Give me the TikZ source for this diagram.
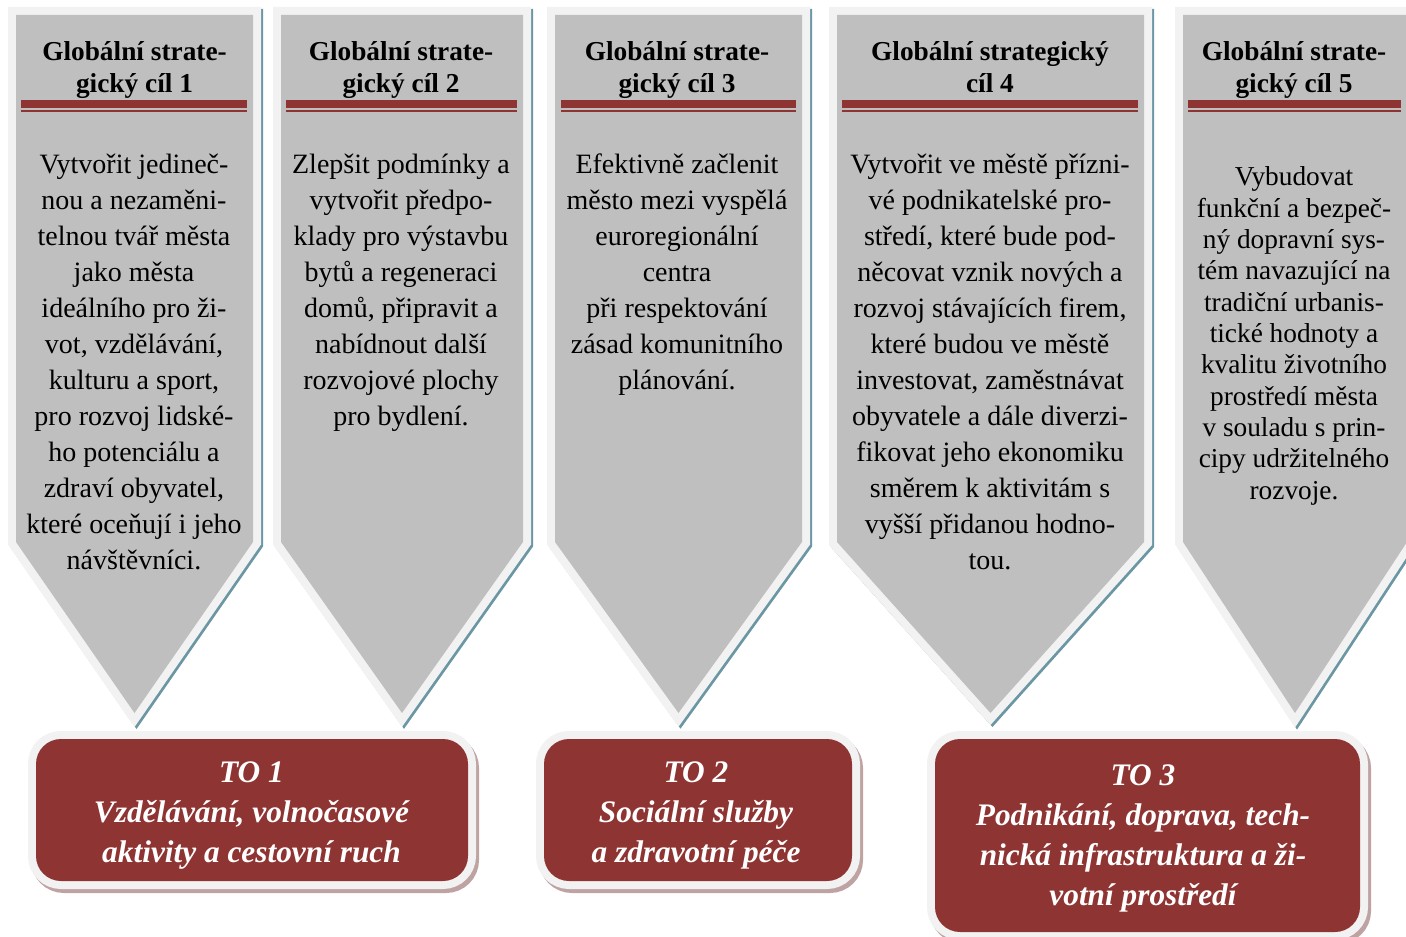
\documentclass[tikz,border=0pt]{standalone}
\usepackage{fontspec}
\setmainfont{Liberation Serif}
\definecolor{cgray}{HTML}{BFBFBF}
\definecolor{clight}{HTML}{F2F2F2}
\definecolor{cred}{HTML}{8E3432}
\definecolor{cteal}{HTML}{6A97A3}
\definecolor{cpink}{HTML}{BFA2A2}
\tikzset{
  chev/.style={fill=cgray, line join=miter,
    preaction={draw=cteal, line width=12pt, line join=miter, transform canvas={shift={(2,2)}}},
    preaction={draw=clight, line width=12pt, line join=miter}},
  tobox/.style={fill=cred, rounded corners=18.75pt,
    preaction={draw=cpink, line width=12pt, transform canvas={shift={(3,4)}}},
    preaction={draw=clight, line width=12pt}},
  bar/.style={fill=cred, draw=none},
  title/.style={anchor=base, inner sep=0pt, font=\bfseries\fontsize{20.5}{24}\selectfont},
  body/.style={anchor=base, inner sep=0pt, font=\fontsize{21}{27}\selectfont},
  bodysmall/.style={anchor=base, inner sep=0pt, font=\fontsize{20.5}{23.5}\selectfont},
  totext/.style={anchor=base, inner sep=0pt, text=white, font=\bfseries\itshape\fontsize{23.5}{30}\selectfont}
}
\newcommand{\lns}[1]{\begin{tabular}[t]{@{}c@{}}#1\end{tabular}}
\begin{document}
\begin{tikzpicture}[x=0.75pt,y=-0.75pt]
\useasboundingbox (0,0) rectangle (1406,937);
\clip (0,0) rectangle (1406,937);
\fill[white] (0,0) rectangle (1406,937);
% chevrons
\path[chev] (16,15) -- (253,15) -- (253,542) -- (134.5,713) -- (16,542) -- cycle;
\path[chev] (281,15) -- (523,15) -- (523,542) -- (402,713) -- (281,542) -- cycle;
\path[chev] (555,15) -- (802,15) -- (802,542) -- (678.5,713) -- (555,542) -- cycle;
\path[chev] (837,15) -- (1144,15) -- (1144,542) -- (990.5,713) -- (837,542) -- cycle;
\path[chev] (1183,15) -- (1407,15) -- (1407,542) -- (1295,713) -- (1183,542) -- cycle;
% title bars
\foreach \a/\b in {21/247, 286/517, 561/796, 842/1138, 1188/1401}{
  \path[bar] (\a,100) rectangle (\b,108.5);
  \path[bar] (\a,109.8) rectangle (\b,111.8);
}
% titles
\node[title] (g1) at (134.5,61) {\lns{Globální strate-\\gický cíl 1}};
\node[title] (g2) at (401,61) {\lns{Globální strate-\\gický cíl 2}};
\node[title] (g3) at (677,61) {\lns{Globální strate-\\gický cíl 3}};
\node[title] (g4) at (990,61) {\lns{Globální strategický\\cíl 4}};
\node[title] (g5) at (1294,61) {\lns{Globální strate-\\gický cíl 5}};
% bodies
\node[body] (b1) at (134,174) {\lns{Vytvořit jedineč-\\nou a nezaměni-\\telnou tvář města\\jako města\\ideálního pro ži-\\vot, vzdělávání,\\kulturu a sport,\\pro rozvoj lidské-\\ho potenciálu a\\zdraví obyvatel,\\které oceňují i jeho\\návštěvníci.}};
\node[body] (b2) at (401,174) {\lns{Zlepšit podmínky a\\vytvořit předpo-\\klady pro výstavbu\\bytů a regeneraci\\domů, připravit a\\nabídnout další\\rozvojové plochy\\pro bydlení.}};
\node[body] (b3) at (677,174) {\lns{Efektivně začlenit\\město mezi vyspělá\\euroregionální\\centra\\při respektování\\zásad komunitního\\plánování.}};
\node[body] (b4) at (990,174) {\lns{Vytvořit ve městě přízni-\\vé podnikatelské pro-\\středí, které bude pod-\\něcovat vznik nových a\\rozvoj stávajících firem,\\které budou ve městě\\investovat, zaměstnávat\\obyvatele a dále diverzi-\\fikovat jeho ekonomiku\\směrem k aktivitám s\\vyšší přidanou hodno-\\tou.}};
\node[bodysmall] (b5) at (1294,186) {\lns{Vybudovat\\funkční a bezpeč-\\ný dopravní sys-\\tém navazující na\\tradiční urbanis-\\tické hodnoty a\\kvalitu životního\\prostředí města\\v souladu s prin-\\cipy udržitelného\\rozvoje.}};
% TO boxes
\path[tobox] (36,739) rectangle (468,881);
\path[tobox] (544,739) rectangle (852,881);
\path[tobox] (935,739) rectangle (1360,932);
\node[totext] (to1) at (251.5,782) {\lns{TO 1\\Vzdělávání, volnočasové\\aktivity a cestovní ruch}};
\node[totext] (to2) at (696,782) {\lns{TO 2\\Sociální služby\\a zdravotní péče}};
\node[totext] (to3) at (1143,785) {\lns{TO 3\\Podnikání, doprava, tech-\\nická infrastruktura a ži-\\votní prostředí}};
\end{tikzpicture}
\end{document}
